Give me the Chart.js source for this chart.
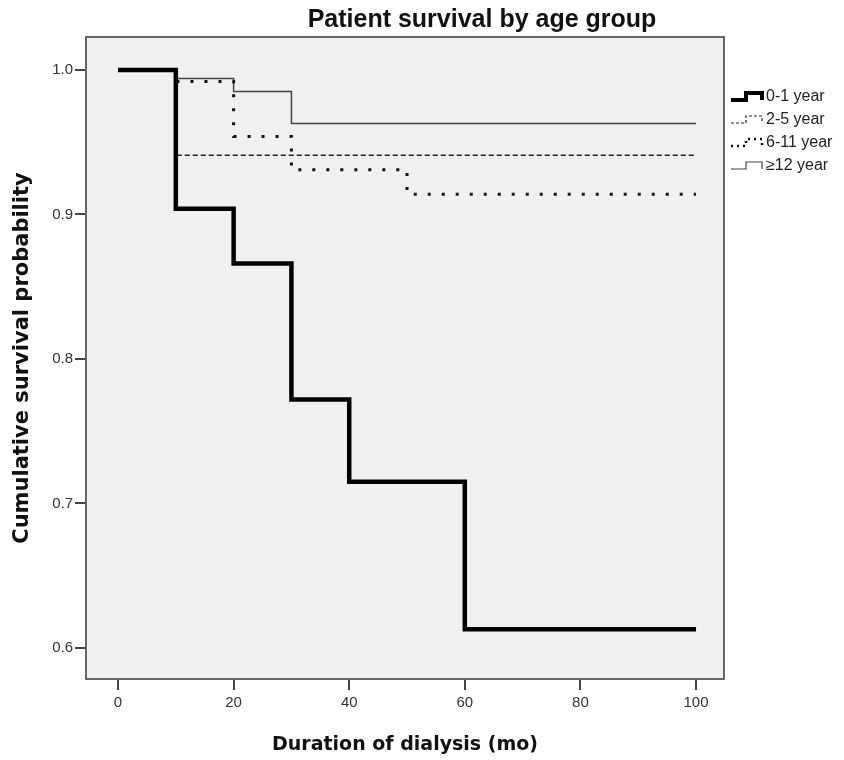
<!DOCTYPE html>
<html>
<head>
<meta charset="utf-8">
<title>Patient survival by age group</title>
<script src="https://cdn.jsdelivr.net/npm/chart.js@4.4.1/dist/chart.umd.min.js"></script>
<style>
  body { margin: 0; background: #fff; }
  #wrap { width: 844px; height: 760px; }
</style>
</head>
<body>
<div id="wrap"><canvas id="kmChart" width="844" height="760"></canvas></div>
<script>
// Kaplan-Meier steps
const groups = ['0-1 year', '2-5 year', '6-11 year', '\u226512 year'];

const timeInfant = [0, 10, 20, 30, 40, 60, 100];
const survInfant = [1.0, 0.904, 0.866, 0.772, 0.715, 0.613, 0.613];

const timeToddler = [0, 10, 100];
const survToddler = [1.0, 0.941, 0.941];

const timeChild = [0, 10, 20, 30, 50, 100];
const survChild = [1.0, 0.992, 0.954, 0.931, 0.914, 0.914];

const timeTeen = [0, 10, 20, 30, 100];
const survTeen = [1.0, 0.994, 0.985, 0.963, 0.963];

const xTicks = [0, 20, 40, 60, 80, 100];
const yTicks = [0.6, 0.7, 0.8, 0.9, 1.0];

function toPoints(times, surv) {
    return times.map((t, i) => ({ x: t, y: surv[i] }));
}

const styles = [
    { color: '#000', width: 4.5, dash: [] },
    { color: '#222', width: 1.5, dash: [5, 3] },
    { color: '#111', width: 3, dash: [3, 11] },
    { color: '#444', width: 1.5, dash: [] }
];

// gray plot box + border
const boxPlugin = {
    id: 'box',
    beforeDatasetsDraw(chart) {
        const a = chart.chartArea;
        const ctx = chart.ctx;
        ctx.save();
        ctx.fillStyle = '#f0f0f0';
        ctx.fillRect(a.left, a.top, a.right - a.left, a.bottom - a.top);
        ctx.restore();
    },
    afterDatasetsDraw(chart) {
        const a = chart.chartArea;
        const ctx = chart.ctx;
        ctx.save();
        ctx.strokeStyle = '#666';
        ctx.lineWidth = 2;
        ctx.strokeRect(a.left, a.top, a.right - a.left, a.bottom - a.top);
        ctx.restore();
    }
};

// title and step-shaped legend on the right
const decorPlugin = {
    id: 'decor',
    afterDraw(chart) {
        const ctx = chart.ctx;
        ctx.save();
        ctx.fillStyle = '#111';
        ctx.font = 'bold 25px "Liberation Sans", Arial, sans-serif';
        ctx.textAlign = 'center';
        ctx.textBaseline = 'alphabetic';
        ctx.fillText('Patient survival by age group', 482, 27);

        const rowY = [97, 120, 143, 166];
        groups.forEach((g, i) => {
            const s = styles[i];
            const y = rowY[i];
            ctx.strokeStyle = s.color;
            ctx.lineWidth = i === 0 ? 4 : (i === 2 ? 2.5 : 1.2);
            ctx.setLineDash(i === 1 ? [3, 2] : (i === 2 ? [2, 4] : []));
            ctx.beginPath();
            ctx.moveTo(731, y + 3);
            ctx.lineTo(746, y + 3);
            ctx.lineTo(746, y - 4);
            ctx.lineTo(762, y - 4);
            ctx.lineTo(762, y + 3);
            ctx.stroke();
            ctx.setLineDash([]);
            ctx.fillStyle = '#222';
            ctx.font = '16px "Liberation Sans", Arial, sans-serif';
            ctx.textAlign = 'left';
            ctx.textBaseline = 'middle';
            ctx.fillText(g, 766, y);
        });
        ctx.restore();
    }
};

const datasets = [
    toPoints(timeInfant, survInfant),
    toPoints(timeToddler, survToddler),
    toPoints(timeChild, survChild),
    toPoints(timeTeen, survTeen)
].map((pts, i) => ({
    label: groups[i],
    data: pts,
    stepped: 'before',
    borderColor: styles[i].color,
    borderWidth: styles[i].width,
    borderDash: styles[i].dash,
    pointRadius: 0,
    fill: false
}));

const tickFont = { family: '"Liberation Sans", Arial, sans-serif', size: 15 };
const labelFont = { family: '"DejaVu Sans", Verdana, sans-serif', size: 19, weight: 'bold' };

new Chart(document.getElementById('kmChart'), {
    type: 'line',
    data: { datasets: datasets },
    options: {
        responsive: false,
        animation: false,
        layout: { padding: { top: 37, right: 120, left: 0, bottom: 0 } },
        plugins: {
            legend: { display: false },
            tooltip: { enabled: false }
        },
        scales: {
            x: {
                type: 'linear',
                min: -5.54,
                max: 104.84,
                afterBuildTicks: s => { s.ticks = xTicks.map(v => ({ value: v })); },
                afterFit: s => { s.height = 81; },
                ticks: { font: tickFont, color: '#333', padding: 4, maxRotation: 0 },
                grid: { drawOnChartArea: false, drawTicks: true, tickLength: 11, color: '#444', lineWidth: 2 },
                border: { display: false },
                title: { display: true, text: 'Duration of dialysis (mo)', font: labelFont, color: '#111', padding: { top: 0, bottom: 4 } }
            },
            y: {
                type: 'linear',
                min: 0.5785,
                max: 1.0228,
                afterBuildTicks: s => { s.ticks = yTicks.map(v => ({ value: v })); },
                afterFit: s => { s.width = 86; },
                ticks: { font: tickFont, color: '#333', padding: 2, callback: v => v.toFixed(1) },
                grid: { drawOnChartArea: false, drawTicks: true, tickLength: 11, color: '#444', lineWidth: 2 },
                border: { display: false },
                title: { display: true, text: 'Cumulative survival probability', font: { family: '"DejaVu Sans", Verdana, sans-serif', size: 21, weight: 'bold' }, color: '#111', padding: { top: 10, bottom: 0 } }
            }
        }
    },
    plugins: [boxPlugin, decorPlugin]
});
</script>
</body>
</html>
